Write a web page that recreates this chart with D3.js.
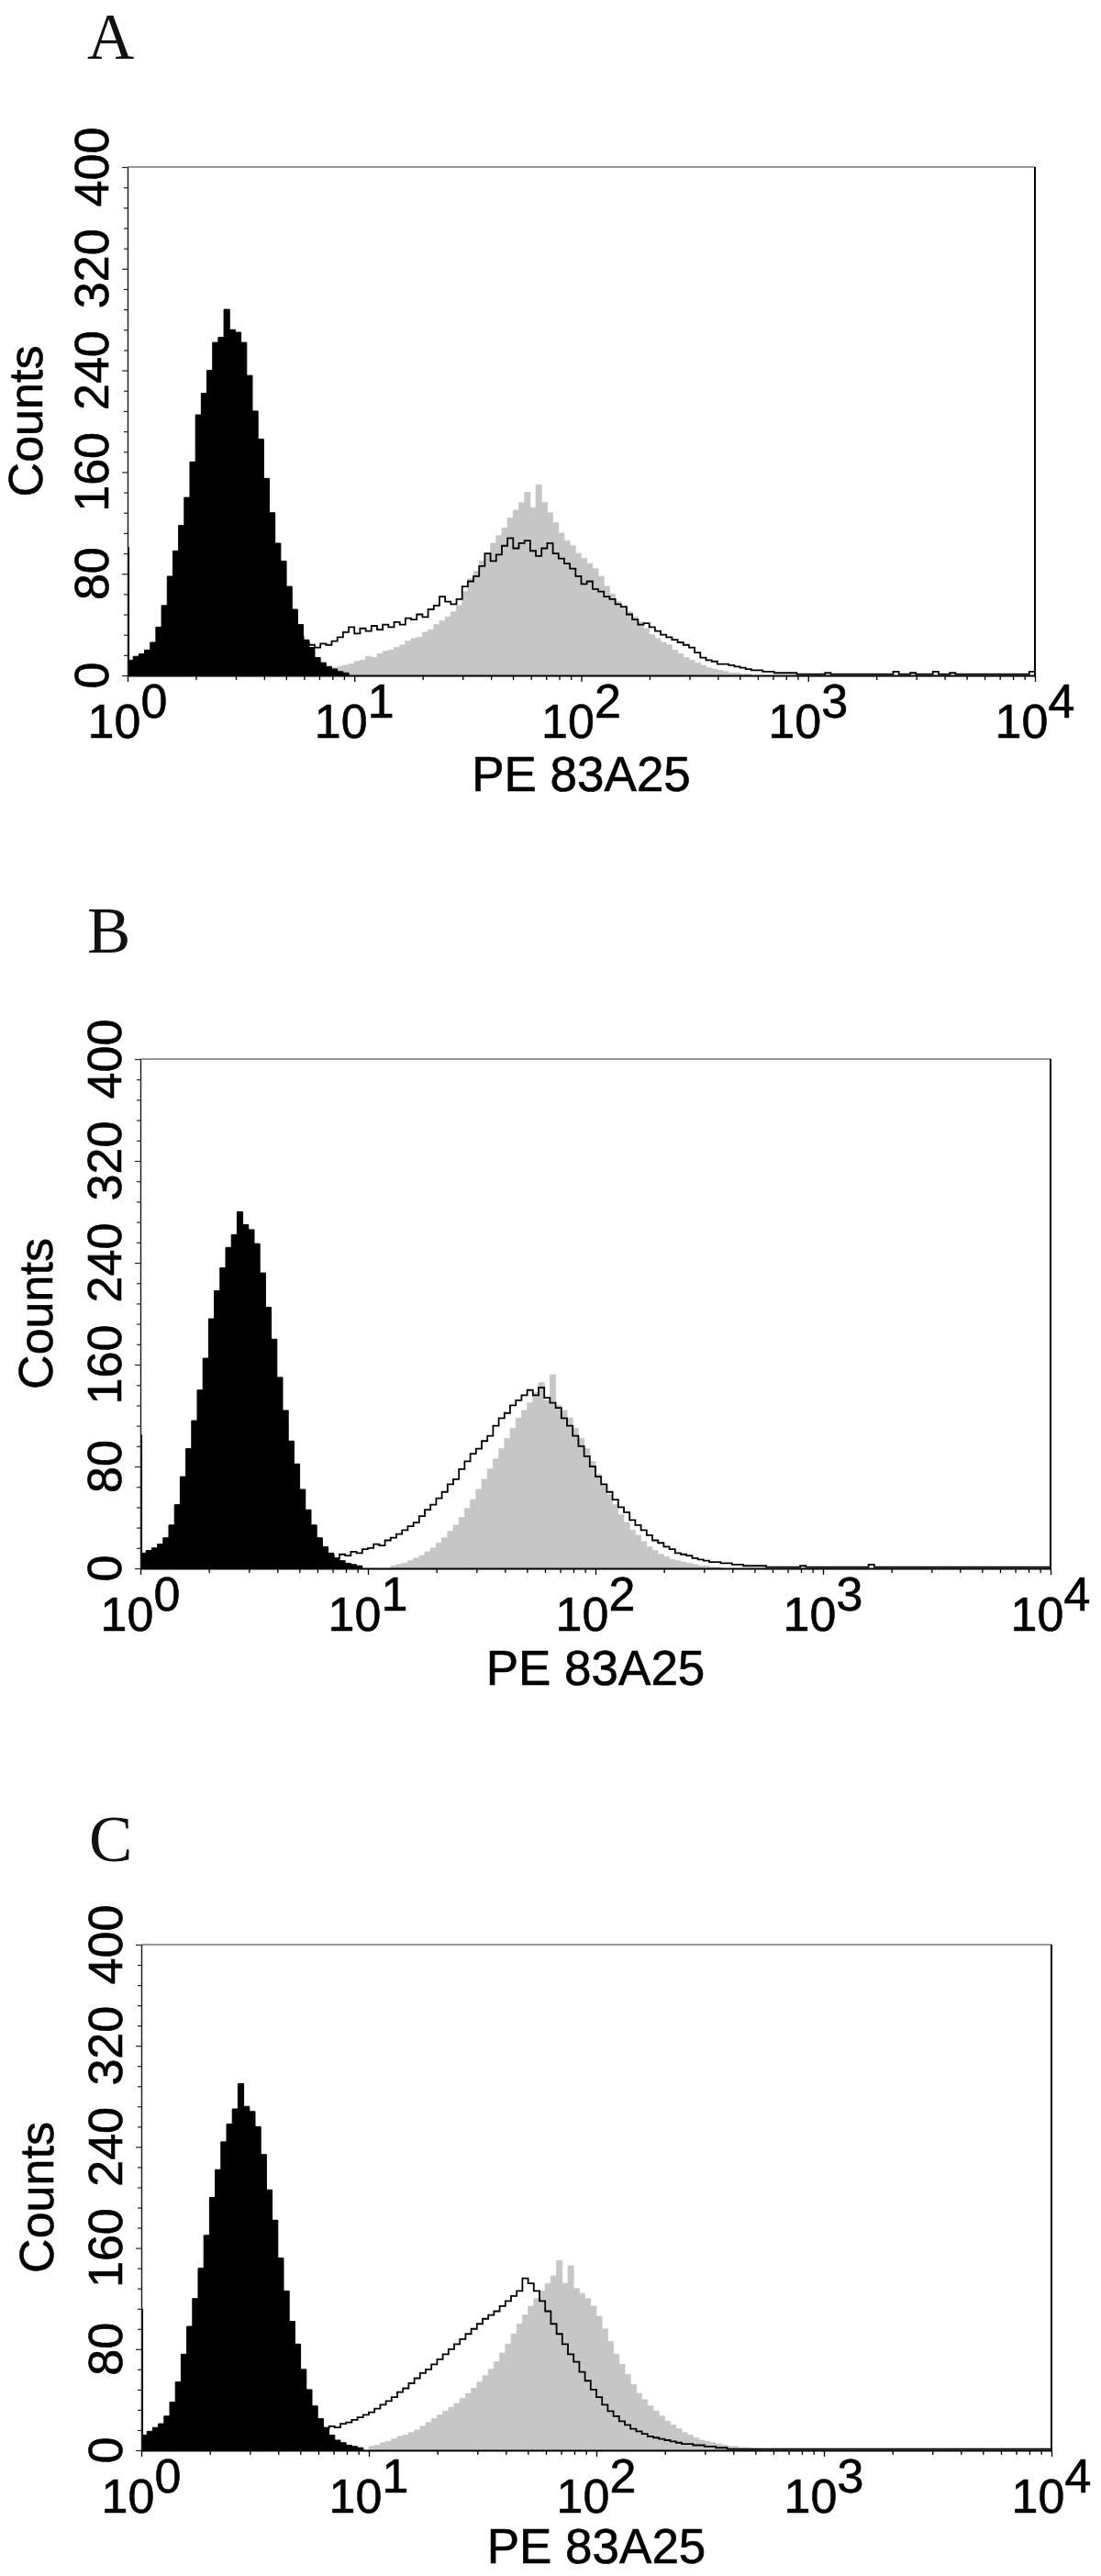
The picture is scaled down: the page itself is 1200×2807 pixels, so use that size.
<!DOCTYPE html>
<html>
<head>
<meta charset="utf-8">
<script src="https://cdn.jsdelivr.net/npm/d3@7"></script>
<style>
  body { margin: 0; background: #fff; }
  svg { display: block; }
</style>
</head>
<body>
<script>
// histogram bins: 40 bins per decade, counts
var binsPerDecade = 40;
var panelLetters = ['A', 'B', 'C'];
var countLabels = [0, 80, 160, 240, 320, 400];
var decadeTicks = [1, 10, 100, 1000, 10000];
var decadeExps = ['0', '1', '2', '3', '4'];
var xTitle = 'PE 83A25';
var yTitle = 'Counts';

// counts in the very first channel (spike at the axis)
var firstChannel = [101, 105, 112];

// panel A
var aBlackStart = 0;
var aBlack = [12,15,17,20,26,38,55,78,98,118,140,168,205,222,240,262,266,288,272,270,
  262,236,208,186,155,128,104,90,70,52,40,28,22,14,10,7,5,3,2];
var aGrayStart = 30;
var aGray = [1,2,2,3,4,5,6,7,8,9,11,12,15,14,17,19,20,22,24,27,
  29,30,34,36,40,43,46,50,55,66,76,82,90,96,104,110,116,124,130,136,
  144,132,150,136,128,120,112,106,102,96,92,88,84,78,70,64,58,54,50,46,
  42,37,32,29,26,24,20,17,14,12,10,8,6,5,4,3,2,2,1,1];
var aLineStart = 30;
var aLine = [30,26,24,22,25,24,27,30,34,38,33,37,35,39,36,40,38,42,40,45,
  44,48,46,52,55,62,58,56,60,70,74,78,86,96,90,95,102,108,100,104,
  106,98,94,100,104,96,92,88,84,78,72,74,68,66,62,60,56,54,48,44,
  40,41,38,35,32,30,28,26,24,22,18,14,12,11,9,9,8,7,6,5,
  4,4,3,3,2,2,2,2,1,1,1,1,1,2,1,1,1,1,1,1,
  1,1,1,1,1,3,1,1,2,1,1,1,3,1,1,2,1,1,1,1,
  1,1,1,1,1,1,1,1,1,3,1,1,1,1,2,1,1,1,1,3];

// panel B
var bBlackStart = 0;
var bBlack = [12,14,16,19,24,34,50,72,94,116,140,165,196,218,236,252,262,280,270,266,
  255,232,205,180,150,124,100,82,62,46,34,24,17,12,8,6,4,3,2];
var bGrayStart = 44;
var bGray = [2,3,4,6,8,10,13,16,20,24,29,34,40,47,54,62,70,78,86,94,
  102,110,118,124,130,138,146,132,152,128,124,118,110,102,94,84,74,66,58,50,
  42,36,30,26,21,17,14,11,9,7,6,5,4,3,2,2,1,1];
var bLineStart = 30;
var bLine = [14,11,9,10,8,11,10,13,12,15,16,19,18,22,24,27,30,33,36,41,
  46,50,55,60,66,70,78,84,90,94,100,104,112,118,122,128,132,136,140,136,
  142,134,130,126,118,112,104,96,88,80,72,66,60,54,48,44,38,34,30,26,
  22,20,17,15,12,11,10,8,7,6,5,5,4,4,3,3,2,2,2,2,
  1,1,1,1,1,1,2,1,1,1,1,1,1,1,1,1,1,1,3,1,
  1,1,1,1,1,1,1,1,1,1,1,1,1,1,1,1,1,1,1,1,
  1,1,1,1,1,1,1,1,1,1];

// panel C
var cBlackStart = 0;
var cBlack = [12,15,18,21,27,38,54,76,98,120,144,170,200,222,244,258,270,290,272,268,
  256,234,206,182,152,126,102,84,64,48,35,25,18,12,8,6,4,3,2];
var cGrayStart = 40;
var cGray = [3,4,6,7,9,11,12,14,16,19,22,25,28,31,34,37,41,45,49,54,
  59,64,70,77,84,92,100,107,114,120,126,132,138,150,132,146,128,124,120,114,
  106,96,86,76,68,60,52,45,40,35,31,27,23,20,17,14,12,10,8,7,
  6,5,4,3,3,2,2,1,1];
var cLineStart = 30;
var cLine = [20,18,17,19,18,21,22,24,26,28,30,33,36,39,42,46,49,53,57,61,
  64,68,72,76,80,84,88,92,96,100,104,107,110,114,118,122,126,136,132,126,
  118,110,100,92,84,76,70,62,55,48,42,36,31,27,23,20,17,15,13,11,
  10,9,8,7,6,5,5,4,4,3,3,2,2,1,1,1,1,1,1,1,
  1,1,1,1,1,1,1,1,1,1,1,1,1,1,1,1,1,1,1,1,
  1,1,1,1,1,1,1,1,1,1,1,1,1,1,1,1,1,1,1,1,
  1,1,1,1,1,1,1,1,1,1];

var panelData = [
  {black: aBlack, blackStart: aBlackStart, gray: aGray, grayStart: aGrayStart, line: aLine, lineStart: aLineStart},
  {black: bBlack, blackStart: bBlackStart, gray: bGray, grayStart: bGrayStart, line: bLine, lineStart: bLineStart},
  {black: cBlack, blackStart: cBlackStart, gray: cGray, grayStart: cGrayStart, line: cLine, lineStart: cLineStart}
];

// layout of the three panels (pixels)
var layout = [
  {left: 139, right: 1128, top: 182, bottom: 736, letterX: 95, letterY: 64, yLabX: 118, countsX: 46, titleY: 862},
  {left: 153, right: 1145, top: 1154, bottom: 1709, letterX: 95, letterY: 1038, yLabX: 132, countsX: 57, titleY: 1836},
  {left: 154, right: 1146, top: 2119, bottom: 2670, letterX: 97, letterY: 2028, yLabX: 133, countsX: 58, titleY: 2793}
];

var sans = '"Liberation Sans", Arial, Helvetica, sans-serif';
var serif = '"Liberation Serif", "Times New Roman", Times, serif';

var svg = d3.select('body').append('svg').attr('width', 1200).attr('height', 2807);

// turn a run of bins into step points
function toSteps(values, start){
  var pts = values.map(function(c, i){
    return {v: Math.pow(10, (start + i) / binsPerDecade), c: c};
  });
  pts.push({v: Math.pow(10, (start + values.length) / binsPerDecade), c: values[values.length - 1]});
  return pts;
}

// slightly heavier lettering, like the scanned figure
function label(sel, size){
  return sel.style('font-family', sans).style('font-size', size + 'px')
    .style('fill', '#000').style('stroke', '#000').style('stroke-width', 0.6);
}

layout.forEach(function(lay, p){
  var d = panelData[p];
  var g = svg.append('g').attr('class', 'panel');

  var x = d3.scaleLog().domain([1, 10000]).range([lay.left, lay.right]);
  var y = d3.scaleLinear().domain([0, 400]).range([lay.bottom, lay.top]);

  g.append('clipPath').attr('id', 'clip' + p).append('rect')
    .attr('x', lay.left).attr('y', lay.top)
    .attr('width', lay.right - lay.left).attr('height', lay.bottom - lay.top);

  var plot = g.append('g').attr('clip-path', 'url(#clip' + p + ')');

  var area = d3.area()
    .x(function(e){ return x(e.v); })
    .y0(y(0))
    .y1(function(e){ return y(e.c); })
    .curve(d3.curveStepAfter);

  var line = d3.line()
    .x(function(e){ return x(e.v); })
    .y(function(e){ return y(e.c); })
    .curve(d3.curveStepAfter);

  plot.append('path').datum(toSteps(d.gray, d.grayStart))
    .attr('d', area).style('fill', '#c6c6c6').style('stroke', '#c6c6c6').style('stroke-width', 0.8);

  plot.append('path').datum(toSteps(d.black, d.blackStart))
    .attr('d', area).style('fill', '#000').style('stroke', '#000').style('stroke-width', 1);

  plot.append('line')
    .attr('x1', x(1.01)).attr('x2', x(1.01))
    .attr('y1', y(0)).attr('y2', y(firstChannel[p]))
    .style('stroke', '#000').style('stroke-width', 2);

  plot.append('path').datum(toSteps(d.line, d.lineStart))
    .attr('d', line).style('fill', 'none').style('stroke', '#000').style('stroke-width', 1.8);

  // frame: top grey, right black
  g.append('line').attr('x1', lay.left).attr('x2', lay.right).attr('y1', lay.top).attr('y2', lay.top)
    .style('stroke', '#777').style('stroke-width', 1.5);
  g.append('line').attr('x1', lay.right).attr('x2', lay.right).attr('y1', lay.top).attr('y2', lay.bottom)
    .style('stroke', '#000').style('stroke-width', 2);

  // x axis with log minor ticks
  var xTicks = [];
  decadeTicks.forEach(function(t, i){
    if (i < decadeTicks.length - 1){
      for (var m = 1; m < 10; m++) xTicks.push(t * m);
    } else {
      xTicks.push(t);
    }
  });
  var xAxis = g.append('g').attr('transform', 'translate(0,' + lay.bottom + ')')
    .call(d3.axisBottom(x).tickValues(xTicks).tickSize(5).tickSizeOuter(0).tickFormat(''));
  xAxis.select('.domain').style('stroke', '#000').style('stroke-width', 2.2);
  xAxis.selectAll('.tick line').style('stroke', '#000').style('stroke-width', 1.3)
    .attr('y2', function(t){ return decadeTicks.indexOf(t) >= 0 ? 7 : 5; });

  // y axis, minor tick every 16 counts
  var yTicks = d3.range(0, 401, 16);
  var yAxis = g.append('g').attr('transform', 'translate(' + lay.left + ',0)')
    .call(d3.axisLeft(y).tickValues(yTicks).tickSize(4).tickSizeOuter(0).tickFormat(''));
  yAxis.select('.domain').style('stroke', '#222').style('stroke-width', 1.5);
  yAxis.selectAll('.tick line').style('stroke', '#222').style('stroke-width', 1.2)
    .attr('x2', function(t){ return countLabels.indexOf(t) >= 0 ? -6 : -4; });

  // y tick labels, rotated
  label(g.selectAll('.ylab').data(countLabels).enter().append('text')
    .attr('class', 'ylab')
    .attr('transform', function(t){ return 'translate(' + lay.yLabX + ',' + y(t) + ') rotate(-90)'; })
    .attr('text-anchor', 'middle'), 52)
    .text(function(t){ return t; });

  // x tick labels 10^n
  var xl = label(g.selectAll('.xlab').data(decadeTicks).enter().append('text')
    .attr('class', 'xlab')
    .attr('x', function(t){ return x(t); })
    .attr('y', lay.bottom + 68)
    .attr('text-anchor', 'middle'), 52);
  xl.append('tspan').text('10');
  xl.append('tspan').attr('dy', -22).text(function(t, i){ return decadeExps[i]; });

  // axis titles
  label(g.append('text')
    .attr('x', (lay.left + lay.right) / 2).attr('y', lay.titleY)
    .attr('text-anchor', 'middle'), 53)
    .text(xTitle);

  label(g.append('text')
    .attr('transform', 'translate(' + lay.countsX + ',' + (lay.top + lay.bottom) / 2 + ') rotate(-90)')
    .attr('text-anchor', 'middle'), 52)
    .text(yTitle);

  // panel letter
  g.append('text')
    .attr('x', lay.letterX).attr('y', lay.letterY)
    .style('font-family', serif).style('font-size', '71px').style('fill', '#111')
    .text(panelLetters[p]);
});
</script>
</body>
</html>
